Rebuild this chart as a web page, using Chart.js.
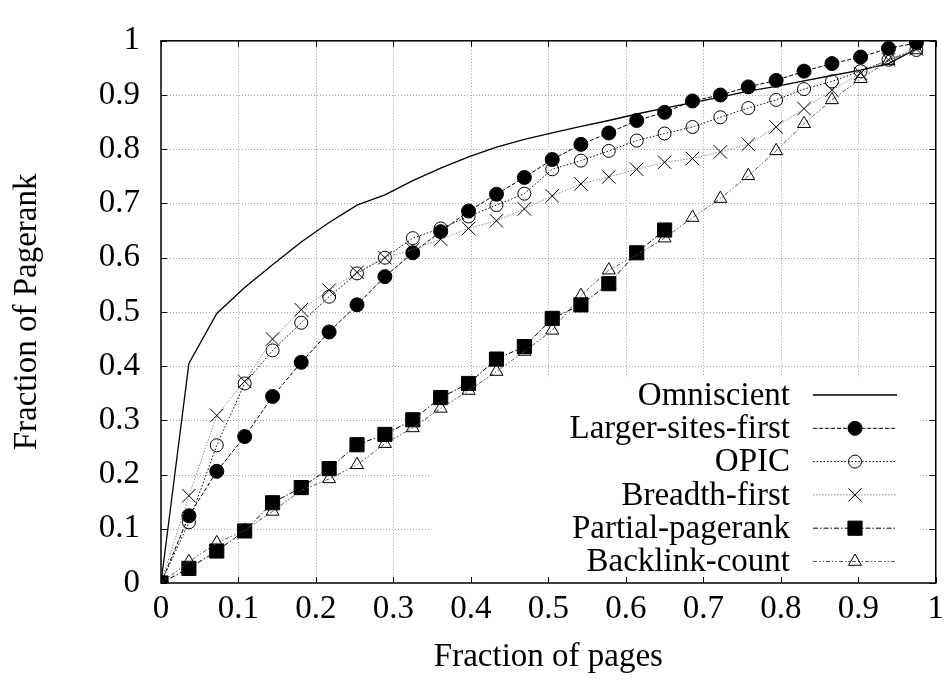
<!DOCTYPE html>
<html>
<head>
<meta charset="utf-8">
<title>Fraction of Pagerank</title>
<script src="https://cdn.jsdelivr.net/npm/chart.js@4.4.1/dist/chart.umd.min.js"></script>
<style>
  html, body { margin: 0; padding: 0; background: #fff; }
  #box { width: 951px; height: 691px; }
</style>
</head>
<body>
<div id="box"><canvas id="crawl" width="951" height="691"></canvas></div>
<script>
// fraction of pages crawled (x) for every sample
var pages = [0, 0.036, 0.072, 0.108, 0.144, 0.181, 0.217, 0.253, 0.289, 0.325, 0.361, 0.397, 0.433, 0.469,
             0.505, 0.542, 0.578, 0.614, 0.650, 0.686, 0.722, 0.758, 0.794, 0.830, 0.866, 0.903, 0.939, 0.975];

// fraction of pagerank collected by each ordering
var omniscient  = [0, 0.405, 0.497, 0.545, 0.587, 0.629, 0.665, 0.697, 0.716, 0.742, 0.765, 0.786, 0.804, 0.818,
                   0.830, 0.842, 0.853, 0.865, 0.876, 0.886, 0.896, 0.907, 0.916, 0.926, 0.936, 0.946, 0.958, 0.985];
var largerSites = [0, 0.124, 0.206, 0.270, 0.344, 0.407, 0.463, 0.513, 0.565, 0.609, 0.648, 0.686, 0.717, 0.748,
                   0.781, 0.809, 0.830, 0.853, 0.868, 0.889, 0.900, 0.915, 0.927, 0.944, 0.958, 0.970, 0.986, 0.996];
var opic        = [0, 0.112, 0.254, 0.368, 0.429, 0.480, 0.528, 0.571, 0.600, 0.636, 0.654, 0.676, 0.697, 0.718,
                   0.763, 0.779, 0.797, 0.816, 0.829, 0.841, 0.859, 0.876, 0.891, 0.911, 0.925, 0.944, 0.965, 0.983];
var breadth     = [0, 0.161, 0.309, 0.372, 0.450, 0.504, 0.540, 0.573, 0.600, 0.615, 0.634, 0.654, 0.668, 0.690,
                   0.714, 0.736, 0.749, 0.763, 0.776, 0.783, 0.795, 0.809, 0.841, 0.875, 0.909, 0.940, 0.965, 0.985];
var partial     = [0, 0.027, 0.059, 0.096, 0.148, 0.176, 0.211, 0.255, 0.274, 0.301, 0.342, 0.368, 0.413, 0.436,
                   0.488, 0.513, 0.552, 0.609, 0.651];
var backlink    = [0, 0.039, 0.074, 0.097, 0.132, 0.171, 0.192, 0.218, 0.257, 0.286, 0.322, 0.355, 0.390, 0.427,
                   0.466, 0.530, 0.577, 0.605, 0.636, 0.674, 0.709, 0.751, 0.797, 0.847, 0.891, 0.930, 0.963, 0.983];

var seriesNames = ['Omniscient', 'Larger-sites-first', 'OPIC', 'Breadth-first', 'Partial-pagerank', 'Backlink-count'];
var xTicks = [0, 0.1, 0.2, 0.3, 0.4, 0.5, 0.6, 0.7, 0.8, 0.9, 1];
var yTicks = [0, 0.1, 0.2, 0.3, 0.4, 0.5, 0.6, 0.7, 0.8, 0.9, 1];

var FONT = "'Liberation Serif', 'Times New Roman', serif";

function pts(ys){
  var out = [];
  for (var i = 0; i < ys.length; i++) out.push({x: pages[i], y: ys[i]});
  return out;
}

// line / marker style per series, same order as seriesNames
var styles = [
  {line: '#000', dash: [],            width: 1.3, point: false,      radius: 0,   fill: 'transparent'},
  {line: '#000', dash: [4, 2],        width: 1,   point: 'circle',   radius: 7,   fill: '#000'},
  {line: '#000', dash: [1.5, 2],      width: 1,   point: 'circle',   radius: 6.5, fill: 'transparent'},
  {line: '#8c8c8c', dash: [1.5, 1.5], width: 1,   point: 'crossRot', radius: 9.5, fill: 'transparent'},
  {line: '#000', dash: [5, 2, 1.5, 2], width: 1,  point: 'rect',     radius: 10,  fill: '#000'},
  {line: '#555', dash: [4, 2, 1.5, 2, 1.5, 2], width: 1, point: 'triangle', radius: 7.5, fill: 'transparent'}
];

var values = [omniscient, largerSites, opic, breadth, partial, backlink];
var dtsheet = [];
for (var i = 0; i < values.length; i++){
  var s = styles[i];
  dtsheet.push({
    label: seriesNames[i],
    data: pts(values[i]),
    showLine: true,
    borderColor: s.line,
    borderWidth: s.width,
    borderDash: s.dash,
    pointStyle: s.point,
    pointRadius: s.radius,
    pointBorderColor: '#000',
    pointBorderWidth: 1,
    pointBackgroundColor: s.fill,
    tension: 0,
    order: values.length - i
  });
}

// grid, frame, inward ticks and the key, drawn the gnuplot way
var framePlugin = {
  id: 'frame',
  beforeDatasetsDraw: function(chart){
    var ctx = chart.ctx, a = chart.chartArea, xs = chart.scales.x, ys = chart.scales.y;
    ctx.save();
    ctx.strokeStyle = '#a0a0a0';
    ctx.lineWidth = 1;
    ctx.setLineDash([1, 2]);
    xTicks.forEach(function(v){
      if (v === 0 || v === 1) return;
      var px = Math.round(xs.getPixelForValue(v)) + 0.5;
      ctx.beginPath(); ctx.moveTo(px, a.top); ctx.lineTo(px, a.bottom); ctx.stroke();
    });
    yTicks.forEach(function(v){
      if (v === 0 || v === 1) return;
      var py = Math.round(ys.getPixelForValue(v)) + 0.5;
      ctx.beginPath(); ctx.moveTo(a.left, py); ctx.lineTo(a.right, py); ctx.stroke();
    });
    // the key sits on an opaque box
    ctx.fillStyle = '#fff';
    ctx.fillRect(430, 377, 918 - 430, a.bottom - 377);
    ctx.restore();
  },
  afterDatasetsDraw: function(chart){
    var ctx = chart.ctx, a = chart.chartArea, xs = chart.scales.x, ys = chart.scales.y;
    ctx.save();
    ctx.setLineDash([]);
    ctx.strokeStyle = '#000';
    ctx.lineWidth = 1;
    var tl = 6;
    xTicks.forEach(function(v){
      var px = Math.round(xs.getPixelForValue(v)) + 0.5;
      ctx.beginPath();
      ctx.moveTo(px, a.bottom); ctx.lineTo(px, a.bottom - tl);
      ctx.moveTo(px, a.top); ctx.lineTo(px, a.top + tl);
      ctx.stroke();
    });
    yTicks.forEach(function(v){
      var py = Math.round(ys.getPixelForValue(v)) + 0.5;
      ctx.beginPath();
      ctx.moveTo(a.left, py); ctx.lineTo(a.left + tl, py);
      ctx.moveTo(a.right, py); ctx.lineTo(a.right - tl, py);
      ctx.stroke();
    });
    ctx.lineWidth = 1.5;
    ctx.strokeRect(a.left, a.top, a.right - a.left, a.bottom - a.top);

    // key: right aligned names, sample line with marker
    var textRight = 790, lineL = 813, lineR = 897, mark = 855, rowY = 395, rowH = 33.3;
    ctx.font = '33px ' + FONT;
    ctx.textAlign = 'right';
    ctx.textBaseline = 'middle';
    ctx.fillStyle = '#000';
    for (var i = 0; i < seriesNames.length; i++){
      var s = styles[i], y = rowY + i * rowH;
      ctx.fillText(seriesNames[i], textRight, y + 1);
      ctx.strokeStyle = s.line;
      ctx.lineWidth = s.width;
      ctx.setLineDash(s.dash);
      ctx.beginPath(); ctx.moveTo(lineL, y); ctx.lineTo(lineR, y); ctx.stroke();
      ctx.setLineDash([]);
      if (s.point){
        ctx.strokeStyle = '#000';
        ctx.fillStyle = s.fill;
        ctx.lineWidth = 1;
        Chart.helpers.drawPoint(ctx, {pointStyle: s.point, radius: s.radius, rotation: 0, borderWidth: 1}, mark, y);
        ctx.fillStyle = '#000';
      }
    }
    ctx.restore();
  }
};

var ctx = document.getElementById('crawl').getContext('2d');
window.crawl = new Chart(ctx, {
  type: 'scatter',
  data: { datasets: dtsheet },
  options: {
    responsive: false,
    animation: false,
    devicePixelRatio: 1,
    layout: { padding: { top: 21, right: 13, left: 0, bottom: 0 } },
    plugins: { legend: { display: false }, tooltip: { enabled: false } },
    scales: {
      x: {
        type: 'linear', min: 0, max: 1,
        grid: { display: false, drawTicks: false },
        border: { display: false },
        afterBuildTicks: function(scale){ scale.ticks = xTicks.map(function(v){ return {value: v}; }); },
        afterFit: function(scale){ scale.height = 108; },
        ticks: {
          padding: 7, color: '#000', maxRotation: 0, autoSkip: false,
          font: { family: FONT, size: 33 },
          callback: function(v){ return String(Number(v.toFixed(1))); }
        },
        title: { display: true, text: 'Fraction of pages', color: '#000', padding: { bottom: 14 },
                 font: { family: FONT, size: 33 } }
      },
      y: {
        type: 'linear', min: 0, max: 1,
        grid: { display: false, drawTicks: false },
        border: { display: false },
        afterBuildTicks: function(scale){ scale.ticks = yTicks.map(function(v){ return {value: v}; }); },
        afterFit: function(scale){ scale.width = 161; },
        ticks: {
          padding: 21, color: '#000', autoSkip: false,
          font: { family: FONT, size: 33 },
          callback: function(v){ return String(Number(v.toFixed(1))); }
        },
        title: { display: true, text: 'Fraction of Pagerank', color: '#000', padding: { top: 8 },
                 font: { family: FONT, size: 33 } }
      }
    }
  },
  plugins: [framePlugin]
});
</script>
</body>
</html>
